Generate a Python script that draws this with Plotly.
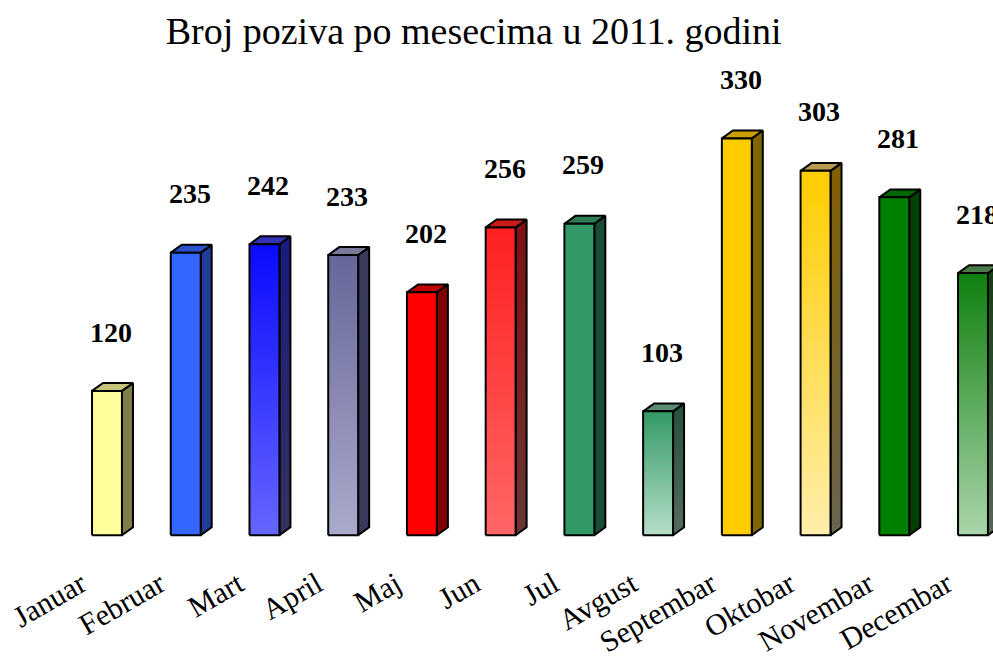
import plotly.graph_objects as go

# ---- data ----
months = ["Januar", "Februar", "Mart", "April", "Maj", "Jun", "Jul",
          "Avgust", "Septembar", "Oktobar", "Novembar", "Decembar"]
calls = [120, 235, 242, 233, 202, 256, 259, 103, 330, 303, 281, 218]
title_text = "Broj poziva po mesecima u 2011. godini"

# colours per bar: front top, front bottom, side top, side bottom, top face
front_top = ["#FFFF99", "#3366FF", "#0A0AFF", "#666699", "#FF0000", "#FF2020",
             "#339966", "#339966", "#FFCC00", "#FFCC00", "#008000", "#0F800F"]
front_bottom = ["#FFFF99", "#3366FF", "#6666FF", "#AAAACC", "#FF0000", "#FF6666",
                "#339966", "#B5DEC8", "#FFCC00", "#FFEEAA", "#008000", "#AAD5AA"]
side_top = ["#7F7F4A", "#1F3D99", "#1A1A80", "#3A3A5C", "#800000", "#801010",
            "#1A4D33", "#23503A", "#806600", "#806000", "#004000", "#104010"]
side_bottom = ["#7F7F4A", "#1F3D99", "#33335E", "#3A3A5C", "#800000", "#6A3535",
               "#1A4D33", "#556B5F", "#806600", "#6B6550", "#004000", "#556655"]
top_face = ["#C4C47A", "#2952CC", "#3333B8", "#7A7A9A", "#C00000", "#CC1A1A",
            "#2D7A55", "#5A8A72", "#C9A000", "#B89A50", "#006600", "#4A7A4A"]

# ---- geometry (in axis units) ----
W = 0.19      # half width of the front face
DX = 0.14     # depth offset in x
DY = 6.6      # depth offset in y
LABEL_OFF = 49

fig = go.Figure()
line = dict(color="black", width=2)

for i, v in enumerate(calls):
    xl, xr = i - W, i + W
    # side face
    fig.add_trace(go.Scatter(
        x=[xr, xr + DX, xr + DX, xr, xr], y=[0, DY, v + DY, v, 0],
        fill="toself", mode="lines", line=line,
        fillgradient=dict(type="vertical",
                          colorscale=[[0, side_bottom[i]], [1, side_top[i]]]),
        hoverinfo="skip", showlegend=False))
    # top face
    fig.add_trace(go.Scatter(
        x=[xl, xr, xr + DX, xl + DX, xl], y=[v, v, v + DY, v + DY, v],
        fill="toself", mode="lines", line=line, fillcolor=top_face[i],
        hoverinfo="skip", showlegend=False))
    # front face
    fig.add_trace(go.Scatter(
        x=[xl, xr, xr, xl, xl], y=[0, 0, v, v, 0],
        fill="toself", mode="lines", line=line,
        fillgradient=dict(type="vertical",
                          colorscale=[[0, front_bottom[i]], [1, front_top[i]]]),
        hoverinfo="skip", showlegend=False))
    fig.add_annotation(x=i + 0.05, y=v + LABEL_OFF, text="<b>%d</b>" % v,
                       showarrow=False, xanchor="center", yanchor="middle",
                       font=dict(family="Liberation Serif", size=28, color="black"))

fig.update_layout(
    width=993, height=658,
    margin=dict(l=0, r=0, t=60, b=94),
    plot_bgcolor="white", paper_bgcolor="white",
    title=dict(text=title_text, x=0.477, xanchor="center", y=0.954, yanchor="middle",
               font=dict(family="Liberation Serif", size=38, color="black")),
    xaxis=dict(range=[-1.359, 11.254], showgrid=False, zeroline=False, showline=False,
               ticks="", tickvals=[k - 0.33 for k in range(len(months))],
               ticktext=months, tickangle=-30,
               tickfont=dict(family="Liberation Serif", size=30, color="black")),
    yaxis=dict(range=[-20.6, 395.2], visible=False),
)

fig.write_html(
    "out.html",
    config={"displayModeBar": False},
    post_script="document.body.style.margin='0';"
                "document.documentElement.style.overflow='hidden';",
)
